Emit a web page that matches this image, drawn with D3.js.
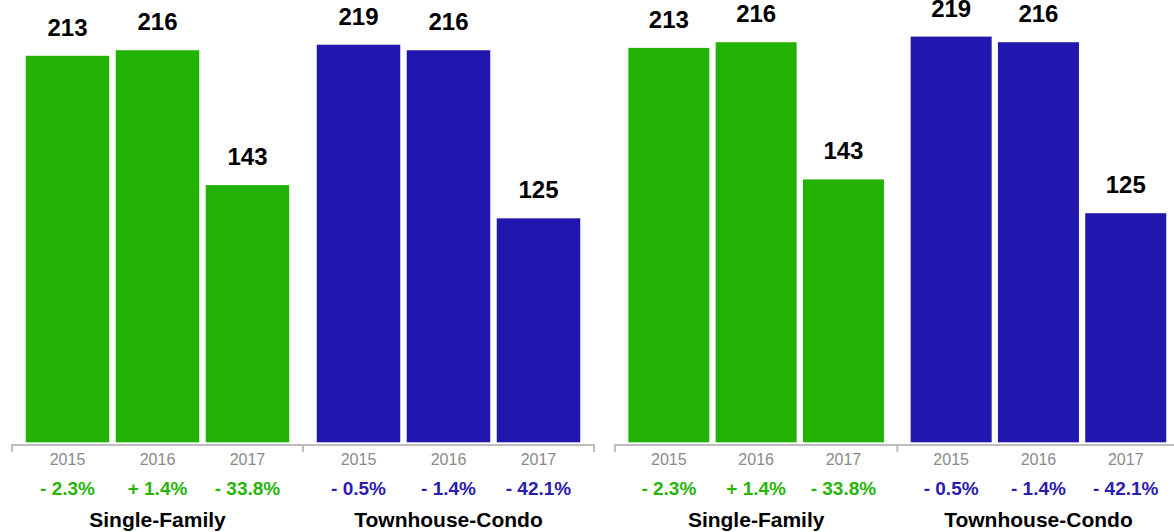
<!DOCTYPE html>
<html>
<head>
<meta charset="utf-8">
<script src="https://cdn.jsdelivr.net/npm/d3@7"></script>
<style>
  html, body { margin: 0; padding: 0; background: #fff; }
  svg { display: block; }
  text { font-family: "Liberation Sans", Arial, Helvetica, sans-serif; }
</style>
</head>
<body>
<svg id="chart" width="1174" height="532"></svg>
<script>
// ---- data ----
const categories = ["Single-Family", "Townhouse-Condo"];
const years = ["2015", "2016", "2017"];
const singleFamily = [213, 216, 143];
const townhouseCondo = [219, 216, 125];
const changeSingleFamily = ["- 2.3%", "+ 1.4%", "- 33.8%"];
const changeTownhouseCondo = ["- 0.5%", "- 1.4%", "- 42.1%"];
const seriesValues = [singleFamily, townhouseCondo];
const seriesChanges = [changeSingleFamily, changeTownhouseCondo];

const colors = { "Single-Family": "#22b203", "Townhouse-Condo": "#2116ad" };
const textColors = { "Single-Family": "#27b50a", "Townhouse-Condo": "#2a1db0" };

// the picture shows the same chart twice, at slightly different scales
const panels = [
  { x0: 12,  x1: 594,    zeroY: 449.2, k: 1.847 },
  { x0: 615, x1: 1179.6, zeroY: 448.1, k: 1.879 }
];
const baseY = 442.3;

const svg = d3.select("#chart");

panels.forEach(p => {
  const g = svg.append("g");
  const xGroup = d3.scaleBand().domain(categories).range([p.x0, p.x1]);
  const xYear = d3.scaleBand().domain(years)
    .range([0, xGroup.bandwidth()])
    .paddingInner(0.072).paddingOuter(0.153);
  const y = d3.scaleLinear().domain([0, 240]).range([p.zeroY, p.zeroY - p.k * 240]);

  // axis line with ticks at group boundaries
  const axisY = 445;
  g.append("line")
    .attr("x1", p.x0).attr("x2", p.x1)
    .attr("y1", axisY).attr("y2", axisY)
    .attr("stroke", "#bdbdbd").attr("stroke-width", 2);
  const bounds = [p.x0].concat(categories.map(c => xGroup(c) + xGroup.bandwidth()));
  g.selectAll("line.tick").data(bounds).join("line")
    .attr("class", "tick")
    .attr("x1", d => d).attr("x2", d => d)
    .attr("y1", axisY - 1).attr("y2", axisY + 7)
    .attr("stroke", "#bdbdbd").attr("stroke-width", 2);

  categories.forEach((cat, ci) => {
    const gx = xGroup(cat);
    const rows = years.map((yr, i) => ({ yr, v: seriesValues[ci][i], ch: seriesChanges[ci][i] }));
    const cg = g.append("g");

    cg.selectAll("rect").data(rows).join("rect")
      .attr("x", d => gx + xYear(d.yr))
      .attr("width", xYear.bandwidth())
      .attr("y", d => y(d.v))
      .attr("height", d => baseY - y(d.v))
      .attr("fill", colors[cat]);

    cg.selectAll("text.val").data(rows).join("text")
      .attr("class", "val")
      .attr("x", d => gx + xYear(d.yr) + xYear.bandwidth() / 2)
      .attr("y", d => y(d.v) - 20)
      .attr("text-anchor", "middle")
      .attr("font-size", 24).attr("font-weight", "bold")
      .attr("fill", "#000")
      .text(d => d.v);

    cg.selectAll("text.yr").data(rows).join("text")
      .attr("class", "yr")
      .attr("x", d => gx + xYear(d.yr) + xYear.bandwidth() / 2)
      .attr("y", 465)
      .attr("text-anchor", "middle")
      .attr("font-size", 16)
      .attr("fill", "#8a8a8a")
      .text(d => d.yr);

    cg.selectAll("text.ch").data(rows).join("text")
      .attr("class", "ch")
      .attr("x", d => gx + xYear(d.yr) + xYear.bandwidth() / 2)
      .attr("y", 495)
      .attr("text-anchor", "middle")
      .attr("font-size", 19).attr("font-weight", "bold")
      .attr("fill", textColors[cat])
      .text(d => d.ch);

    cg.append("text")
      .attr("x", gx + xGroup.bandwidth() / 2 + (ci === 0 ? 0 : 0))
      .attr("y", 527)
      .attr("text-anchor", "middle")
      .attr("font-size", 21).attr("font-weight", "bold")
      .attr("fill", "#000")
      .text(cat);
  });
});
</script>
</body>
</html>
